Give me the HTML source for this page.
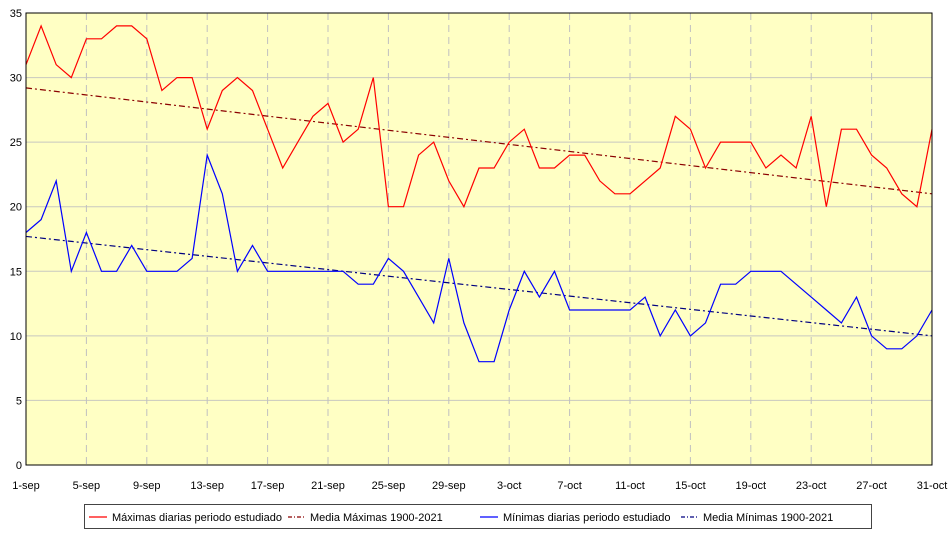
<!DOCTYPE html>
<html><head><meta charset="utf-8"><style>
html,body{margin:0;padding:0;background:#fff;width:950px;height:534px;overflow:hidden}
svg{display:block;font-family:"Liberation Sans",sans-serif}
</style></head><body>
<svg id="c" width="950" height="534" xmlns="http://www.w3.org/2000/svg"></svg>
<script>
const L=26,R=932,T=13,B=465;
const X=i=>L+(R-L)*i/60, Y=v=>B-(B-T)*v/35;
const mx=[31,34,31,30,33,33,34,34,33,29,30,30,26,29,30,29,26,23,25,27,28,25,26,30,20,20,24,25,22,20,23,23,25,26,23,23,24,24,22,21,21,22,23,27,26,23,25,25,25,23,24,23,27,20,26,26,24,23,21,20,26];
const mn=[18,19,22,15,18,15,15,17,15,15,15,16,24,21,15,17,15,15,15,15,15,15,14,14,16,15,13,11,16,11,8,8,12,15,13,15,12,12,12,12,12,13,10,12,10,11,14,14,15,15,15,14,13,12,11,13,10,9,9,10,12];
let s=`<rect x="${L}" y="${T}" width="${R-L}" height="${B-T}" fill="#ffffc4"/>`;
for(let v=5;v<35;v+=5)s+=`<line x1="${L}" x2="${R}" y1="${Y(v)}" y2="${Y(v)}" stroke="#c8c8c0" stroke-width="1"/>`;
for(let i=4;i<60;i+=4)s+=`<line x1="${X(i)}" x2="${X(i)}" y1="${T}" y2="${B}" stroke="#c0c0c0" stroke-width="1" stroke-dasharray="7,5"/>`;
const pl=(a,c)=>`<polyline fill="none" stroke="${c}" stroke-width="1.2" points="${a.map((v,i)=>X(i).toFixed(1)+','+Y(v).toFixed(1)).join(' ')}"/>`;
s+=`<line x1="${L}" y1="${Y(29.2)}" x2="${R}" y2="${Y(21)}" stroke="#8b0000" stroke-width="1.2" stroke-dasharray="6,3,2,3"/>`;
s+=`<line x1="${L}" y1="${Y(17.7)}" x2="${R}" y2="${Y(10)}" stroke="#000080" stroke-width="1.2" stroke-dasharray="6,3,2,3"/>`;
s+=pl(mx,'#ff0000')+pl(mn,'#0000ff');
s+=`<rect x="${L}" y="${T}" width="${R-L}" height="${B-T}" fill="none" stroke="#000" stroke-width="1"/>`;
for(let v=0;v<=35;v+=5)s+=`<text x="${L-4}" y="${Y(v)+4}" font-size="11" text-anchor="end" fill="#000">${v}</text>`;
const lab=['1-sep','5-sep','9-sep','13-sep','17-sep','21-sep','25-sep','29-sep','3-oct','7-oct','11-oct','15-oct','19-oct','23-oct','27-oct','31-oct'];
lab.forEach((t,k)=>{s+=`<text x="${X(k*4)}" y="489" font-size="11" text-anchor="middle" fill="#000">${t}</text>`});
s+=`<rect x="84.5" y="504.5" width="787" height="24" fill="#fff" stroke="#444" stroke-width="1"/>`;
s+=`<line x1="89" x2="107" y1="517" y2="517" stroke="#f00" stroke-width="1.2"/><text x="112" y="521" font-size="11">Máximas diarias periodo estudiado</text>`;
s+=`<line x1="288" x2="306" y1="517" y2="517" stroke="#8b0000" stroke-width="1.2" stroke-dasharray="4,2,1,2"/><text x="310" y="521" font-size="11">Media Máximas 1900-2021</text>`;
s+=`<line x1="480" x2="498" y1="517" y2="517" stroke="#00f" stroke-width="1.2"/><text x="503" y="521" font-size="11">Mínimas diarias periodo estudiado</text>`;
s+=`<line x1="681" x2="699" y1="517" y2="517" stroke="#000080" stroke-width="1.2" stroke-dasharray="4,2,1,2"/><text x="703" y="521" font-size="11">Media Mínimas 1900-2021</text>`;
document.getElementById('c').innerHTML=s;
</script>
</body></html>
